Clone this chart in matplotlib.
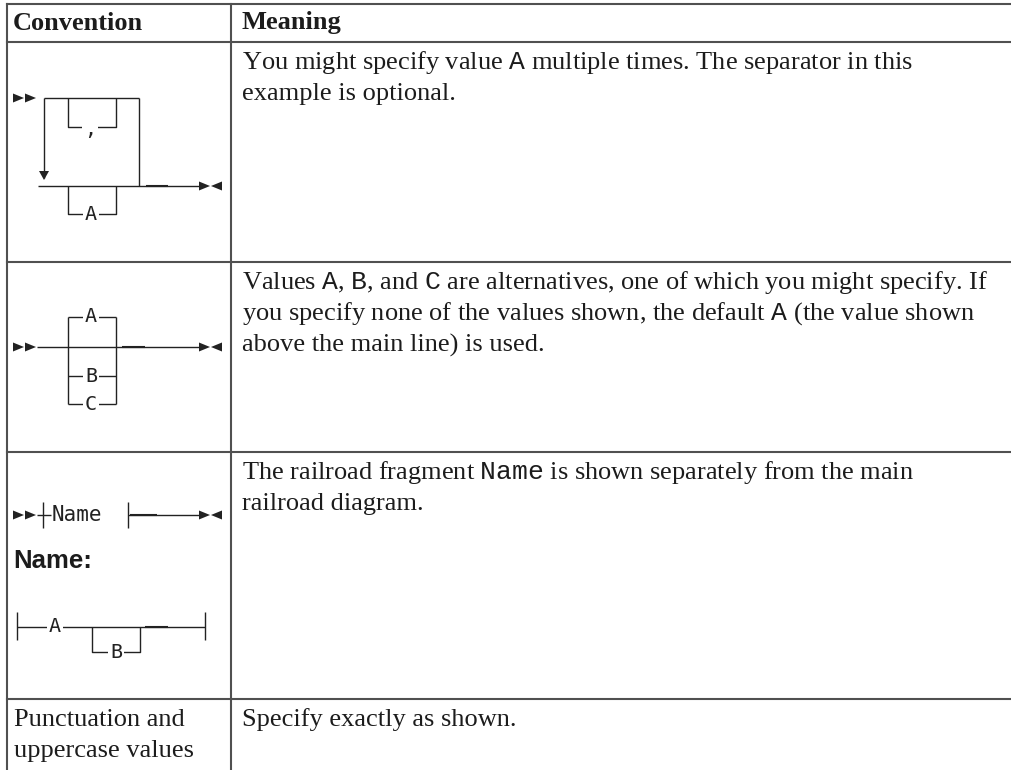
import matplotlib.pyplot as plt
from matplotlib.patches import Polygon

plt.rcParams['mathtext.fontset'] = 'custom'
plt.rcParams['mathtext.tt'] = 'Liberation Mono'
plt.rcParams['mathtext.rm'] = 'Liberation Serif'

W, H = 1011, 770

headers = ["Convention", "Meaning"]
meanings = [
    ["You might specify value $\\mathtt{A}$ multiple times. The separator in this",
     "example is optional."],
    ["Values $\\mathtt{A}$, $\\mathtt{B}$, and $\\mathtt{C}$ are alternatives, one of which you might specify. If",
     "you specify none of the values shown, the default $\\mathtt{A}$ (the value shown",
     "above the main line) is used."],
    ["The railroad fragment $\\mathtt{Name}$ is shown separately from the main",
     "railroad diagram."],
    ["Specify exactly as shown."],
]
last_convention = ["Punctuation and", "uppercase values"]
repeat_value, repeat_sep = "A", ","
choices = ["A", "B", "C"]
fragment_name = "Name"
fragment_items = ["A", "B"]

# layout (pixels)
row_tops = [42, 262, 452, 699]
col_x = [7, 231]
line_gap = 31
TXT = '#1c1c1c'
GRID = '#505050'
INK = '#222222'
serif = 'Liberation Serif'
mono = 'DejaVu Sans Mono'
body_fs = 19
mono_fs = 14.5

fig = plt.figure(figsize=(W / 100, H / 100), dpi=100)
ax = fig.add_axes([0, 0, 1, 1])
ax.set_xlim(0, W)
ax.set_ylim(H, 0)
ax.axis('off')

# table grid
ax.plot([col_x[0], W], [4, 4], color=GRID, lw=1.5)
for y in row_tops:
    ax.plot([col_x[0], W], [y, y], color=GRID, lw=1.5)
for x in col_x:
    ax.plot([x, x], [4, H], color=GRID, lw=1.5)

ax.text(13, 23, headers[0], fontsize=body_fs, family=serif, weight='bold',
        color=TXT, va='center')
ax.text(241, 23, headers[1], fontsize=body_fs, family=serif, weight='bold',
        color=TXT, va='center')

for top, lines in zip(row_tops, meanings):
    for i, s in enumerate(lines):
        ax.text(242, top + 21 + i * line_gap, s, fontsize=body_fs, family=serif,
                color=TXT, va='center')

for i, s in enumerate(last_convention):
    ax.text(14, row_tops[3] + 21 + i * line_gap, s, fontsize=body_fs,
            family=serif, color=TXT, va='center')


def seg(xs, ys, lw=1.0):
    ax.plot(xs, ys, color=INK, lw=lw, solid_capstyle='butt')


def tri(x, y, d, w=11, h=9):
    if d == 'r':
        pts = [(x, y - h / 2), (x, y + h / 2), (x + w, y)]
    elif d == 'l':
        pts = [(x + w, y - h / 2), (x + w, y + h / 2), (x, y)]
    else:
        pts = [(x - w / 2, y - h), (x + w / 2, y - h), (x, y)]
    ax.add_patch(Polygon(pts, closed=True, color=INK, lw=0))


def start(y):
    tri(13, y, 'r')
    tri(25, y, 'r')


def finish(y):
    tri(199, y, 'r')
    tri(211, y, 'l')


def label(x, y, s):
    ax.text(x, y, s, fontsize=mono_fs, family=mono, color=INK, ha='center',
            va='center', bbox=dict(fc='white', ec='none', pad=1.5))


# row 1: repeat diagram
top, main = 98, 186
start(top)
seg([44, 139], [top, top])
seg([44, 44], [top, main - 8])
tri(44, main - 6, 'd', 10, 9)
seg([68, 68, 116, 116], [top, 127, 127, top])
ax.text(90, 129, repeat_sep, fontsize=mono_fs, family=mono, color=INK,
        ha='center', va='center', bbox=dict(fc='white', ec='none', pad=1.5))
seg([139, 139], [top, main])
seg([38, 200], [main, main])
seg([146, 168], [main, main], lw=1.5)
seg([68, 68, 116, 116], [main, 214, 214, main])
label(91, 214, repeat_value)
finish(main)

# row 2: choice diagram
main = 347
ys = {"A": 317, "B": 376, "C": 404}
start(main)
seg([37, 200], [main, main])
seg([122, 145], [main, main], lw=1.5)
seg([68, 68], [ys["A"], ys["C"]])
seg([116, 116], [ys["A"], ys["C"]])
for c in choices:
    seg([68, 116], [ys[c], ys[c]])
    label(91, ys[c], c)
finish(main)

# row 3: fragment reference
main = 515
start(main)
seg([43, 43], [502, 528])
seg([37, 51], [main, main])
ax.text(52, main, fragment_name, fontsize=mono_fs + 0.5, family=mono,
        color=INK, ha='left', va='center')
seg([128, 128], [502, 528])
seg([128, 200], [main, main])
seg([130, 157], [main, main], lw=1.5)
finish(main)

ax.text(13, 561, fragment_name + ":", fontsize=18.5, family='Liberation Sans',
        weight='bold', color=TXT, va='center')

fy = 627
seg([17, 17], [612, 640])
seg([205, 205], [612, 640])
seg([17, 205], [fy, fy])
seg([145, 168], [fy, fy], lw=1.5)
label(55, fy, fragment_items[0])
seg([92, 92, 140, 140], [fy, 652, 652, fy])
label(116, 652, fragment_items[1])

fig.savefig('out.png', dpi=100)
